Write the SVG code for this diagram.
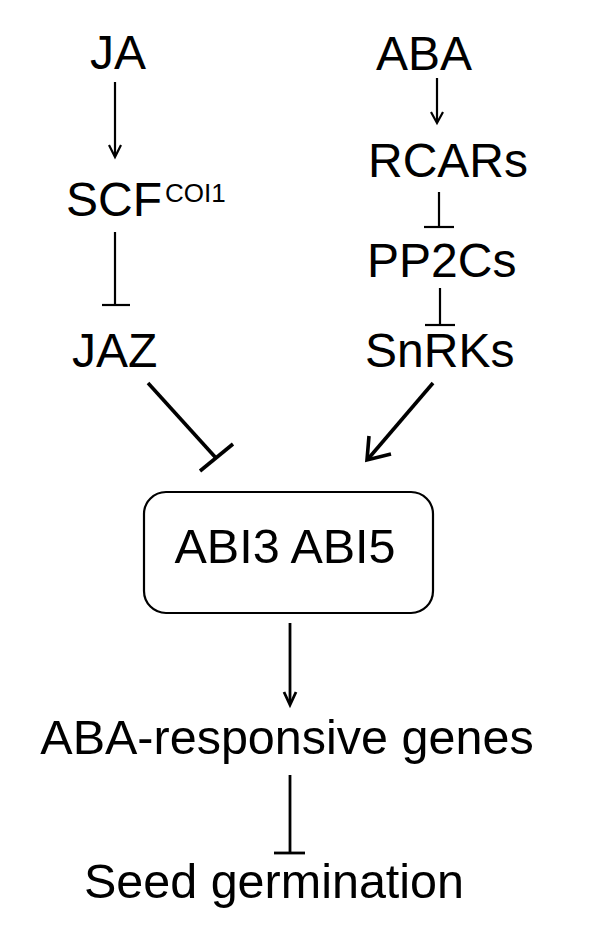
<svg xmlns="http://www.w3.org/2000/svg" width="594" height="933" viewBox="0 0 594 933">
<style>
  .lbl { font-family: "Liberation Sans", Arial, sans-serif; font-size: 48px; fill: #000; }
  .sup { font-size: 26px; }
  .ln { stroke: #000; stroke-width: 2.2; fill: none; }
  .lnb { stroke: #000; stroke-width: 2.8; fill: none; }
  .thick { stroke: #000; stroke-width: 3.6; fill: none; }
  .box { stroke: #000; stroke-width: 2.2; fill: #fff; }
</style>
<rect width="594" height="933" fill="#fff"/>
<g id="connectors">
  <!-- JA -> SCF -->
  <line class="ln" x1="115" y1="82" x2="115" y2="156"/>
  <polyline class="ln" points="109,145 115,157 121,145"/>
  <!-- SCF -| JAZ -->
  <line class="ln" x1="115" y1="232" x2="115" y2="305"/>
  <line class="ln" x1="102" y1="305" x2="130" y2="305"/>
  <!-- ABA -> RCARs -->
  <line class="ln" x1="437" y1="78" x2="437" y2="122"/>
  <polyline class="ln" points="431,112 437,123 443,112"/>
  <!-- RCARs -| PP2Cs -->
  <line class="ln" x1="439" y1="192" x2="439" y2="227"/>
  <line class="ln" x1="424" y1="227" x2="454" y2="227"/>
  <!-- PP2Cs -| SnRKs -->
  <line class="ln" x1="440" y1="288" x2="440" y2="325"/>
  <line class="ln" x1="425" y1="325" x2="455" y2="325"/>
  <!-- JAZ -| ABI -->
  <line class="thick" x1="148" y1="383" x2="216" y2="458"/>
  <line class="thick" x1="200" y1="471" x2="233" y2="444"/>
  <!-- SnRKs -> ABI -->
  <line class="thick" x1="433" y1="383" x2="368" y2="459"/>
  <polyline class="thick" points="369,436 367,460 391,454"/>
  <!-- ABI -> genes -->
  <line class="lnb" x1="290" y1="623" x2="290" y2="704"/>
  <polyline class="lnb" points="284,692 290,705 296,692"/>
  <!-- genes -| germination -->
  <line class="lnb" x1="290" y1="775" x2="290" y2="853"/>
  <line class="lnb" x1="274" y1="853" x2="305" y2="853"/>
</g>
<g id="node-JA"><text class="lbl" x="90" y="69">JA</text></g>
<g id="node-SCF"><text class="lbl" x="66" y="216">SCF<tspan class="sup" dx="3" dy="-14">COI1</tspan></text></g>
<g id="node-JAZ"><text class="lbl" x="72" y="367">JAZ</text></g>
<g id="node-ABA"><text class="lbl" x="376" y="70">ABA</text></g>
<g id="node-RCARs"><text class="lbl" x="368" y="177">RCARs</text></g>
<g id="node-PP2Cs"><text class="lbl" x="367" y="277">PP2Cs</text></g>
<g id="node-SnRKs"><text class="lbl" x="365" y="367">SnRKs</text></g>
<g id="node-ABI">
  <rect class="box" x="144" y="492" width="289" height="121" rx="22" ry="22"/>
  <text class="lbl" x="285" y="563" text-anchor="middle" style="font-size:48.5px">ABI3 ABI5</text>
</g>
<g id="node-genes"><text class="lbl" x="287" y="754" text-anchor="middle" style="font-size:48.5px">ABA-responsive genes</text></g>
<g id="node-germination"><text class="lbl" x="274" y="898" text-anchor="middle" style="font-size:48.5px">Seed germination</text></g>
</svg>
